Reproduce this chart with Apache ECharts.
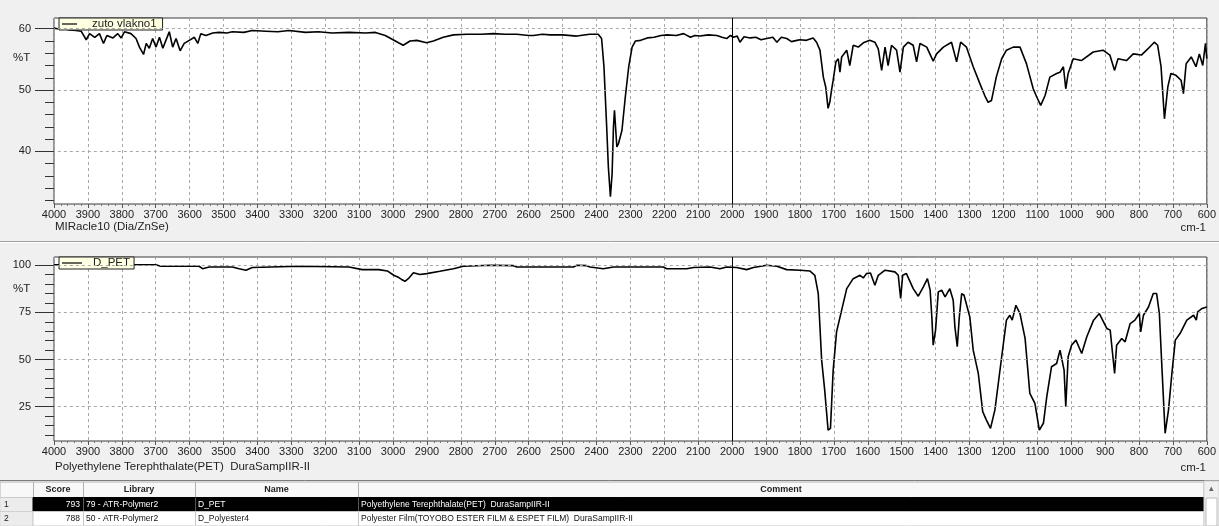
<!DOCTYPE html>
<html>
<head>
<meta charset="utf-8">
<script src="https://cdn.jsdelivr.net/npm/echarts@6/dist/echarts.min.js"></script>
<style>
html,body{margin:0;padding:0;background:#f0f0f0;}
#chart{width:1219px;height:526px;}
</style>
</head>
<body>
<div id="chart"></div>
<script>
// ---------- DATA ----------
const topName = 'zuto vlakno1';
const topSubtitle = 'MIRacle10 (Dia/ZnSe)';
const topWn = [4000,3990,3975,3955,3935,3920,3905,3895,3880,3866,3854,3844,3826,3812,3802,3792,3773,3758,3748,3736,3728,3719,3709,3699,3689,3679,3670,3660,3650,3640,3628,3616,3601,3586,3576,3567,3552,3532,3513,3490,3474,3440,3415,3375,3340,3307,3258,3220,3180,3130,3081,3052,3023,3000,2984,2970,2950,2930,2901,2881,2852,2822,2783,2740,2704,2670,2635,2600,2586,2560,2537,2500,2458,2420,2395,2385,2378,2370,2365,2359,2354,2350,2347,2344,2340,2335,2325,2315,2305,2295,2285,2270,2250,2230,2210,2191,2165,2143,2123,2110,2095,2070,2045,2030,2016,2005,1996,1985,1977,1965,1947,1930,1915,1898,1880,1868,1855,1839,1825,1809,1800,1781,1761,1751,1741,1731,1724,1717,1712,1707,1702,1694,1687,1682,1677,1662,1653,1643,1628,1613,1594,1579,1569,1559,1549,1540,1530,1515,1505,1495,1481,1466,1456,1446,1426,1407,1397,1377,1353,1338,1326,1309,1289,1269,1255,1245,1235,1221,1205,1191,1171,1151,1132,1112,1102,1090,1077,1063,1043,1033,1023,1016,1009,994,970,935,906,886,872,862,837,817,793,774,755,745,735,725,715,706,691,676,669,661,646,632,622,612,604,600];
const topT = [60.1,60.0,60.1,59.8,59.7,59.6,58.2,59.2,58.6,59.2,57.6,58.9,58.5,59.2,58.5,59.5,59.2,58.4,57.0,55.8,57.6,56.8,58.4,57.0,58.6,56.8,58.1,59.5,57.0,58.4,56.4,57.6,58.1,58.6,57.6,59.2,58.9,59.3,59.4,59.3,59.5,59.4,59.7,59.6,59.5,59.7,59.4,59.5,59.3,59.4,59.3,59.4,58.9,58.2,57.7,57.3,58.0,58.1,57.7,58.0,58.6,59.0,59.1,59.1,59.2,59.1,59.1,58.9,58.9,59.1,59.0,59.0,58.8,59.1,59.1,58.4,53.8,44.0,37.4,32.6,36.3,44.0,46.7,46.4,40.7,41.3,43.4,48.9,53.8,57.0,58.0,58.1,58.5,58.6,58.9,59.0,58.9,59.2,58.6,58.9,58.8,59.0,58.9,58.6,58.4,58.9,58.6,58.8,57.8,58.7,58.5,58.6,58.2,58.4,58.6,57.8,58.6,58.4,57.9,58.1,58.2,58.1,58.5,57.8,56.5,52.1,50.5,47.0,48.0,49.9,51.6,54.6,55.1,52.9,55.4,56.5,54.0,57.3,57.0,57.7,58.1,57.8,56.7,53.2,57.0,54.0,57.3,56.5,52.9,57.0,57.8,57.3,54.6,57.6,57.0,54.7,55.9,57.0,57.8,54.6,57.8,57.0,53.8,51.0,49.1,48.0,48.3,52.1,55.1,56.5,57.0,57.0,54.3,50.2,48.9,47.5,49.1,52.1,52.7,52.9,53.8,50.2,52.7,55.1,54.8,56.2,56.5,55.7,53.2,55.1,54.8,55.9,55.7,56.7,57.8,57.3,53.8,45.3,50.5,52.7,52.4,51.6,49.4,54.3,55.4,53.8,55.9,54.0,57.6,55.1];

const botName = 'D_PET';
const botSubtitle = 'Polyethylene Terephthalate(PET)  DuraSampIIR-II';
const botWn = [4000,3900,3800,3700,3685,3572,3562,3542,3474,3454,3434,3415,3277,3130,3091,3042,3017,2998,2983,2975,2965,2955,2940,2921,2901,2862,2822,2793,2714,2645,2635,2468,2458,2429,2419,2380,2350,2203,2193,2134,2114,2065,2036,2016,1987,1957,1937,1898,1868,1839,1799,1771,1756,1746,1736,1727,1717,1710,1702,1692,1677,1662,1643,1623,1613,1604,1592,1579,1569,1549,1520,1510,1503,1497,1486,1466,1451,1436,1424,1416,1411,1407,1400,1392,1382,1372,1358,1348,1343,1336,1330,1323,1316,1299,1289,1274,1261,1250,1238,1225,1205,1191,1181,1174,1163,1151,1136,1122,1107,1094,1082,1072,1058,1043,1033,1028,1021,1016,1009,999,986,969,954,934,917,895,885,877,872,866,851,841,826,812,799,795,787,772,758,748,740,733,723,713,703,693,679,659,639,631,627,614,600];
const botT = [100.3,100.3,100.3,100.3,99.5,99.5,98.2,99.1,99.1,98.2,97.4,98.8,99.5,99.1,97.7,97.7,97.0,94.7,93.5,92.5,91.5,92.9,96.1,95.1,95.6,96.8,98.2,99.5,100.0,99.8,99.1,99.1,100.0,99.8,99.1,98.2,99.1,99.1,98.2,98.2,98.8,99.1,98.2,99.1,98.8,97.7,98.8,100.0,99.5,97.7,97.4,97.0,94.7,85.0,49.7,33.8,12.6,13.5,44.4,64.7,76.2,87.6,92.9,94.7,93.3,95.6,95.9,89.4,94.7,97.4,96.5,94.7,82.4,94.7,95.6,87.6,83.6,88.5,92.9,86.8,72.6,57.6,65.6,85.9,86.8,83.2,87.6,81.5,67.3,56.8,72.6,85.0,84.1,72.6,55.0,42.7,22.4,17.9,13.5,23.3,51.5,70.9,73.5,70.9,78.8,74.4,61.2,32.1,26.8,12.6,16.2,30.3,46.2,47.9,55.0,55.9,44.4,25.0,51.5,57.6,60.3,53.2,62.1,70.9,74.4,66.5,65.6,51.5,42.7,57.6,61.2,59.4,69.1,70.9,74.4,64.7,73.5,77.9,85.0,85.0,74.4,47.9,10.9,23.3,42.7,60.3,63.8,70.9,73.5,70.9,75.3,77.1,77.9];

const topMajorTicks = [40, 50, 60];
const topMinorTicks = [32, 34, 36, 38, 42, 44, 46, 48, 52, 54, 56, 58];
const botMajorTicks = [25, 50, 75, 100];
const botMinorTicks = [10, 15, 20, 30, 35, 40, 45, 55, 60, 65, 70, 80, 85, 90, 95];
const cursorWn = 2000;
const yLabel = '%T';
const xUnit = 'cm-1';

const tableHeaders = ['', 'Score', 'Library', 'Name', 'Comment'];
const tableRows = [
  ['1', '793', '79 - ATR-Polymer2', 'D_PET', 'Polyethylene Terephthalate(PET)  DuraSampIIR-II'],
  ['2', '788', '50 - ATR-Polymer2', 'D_Polyester4', 'Polyester Film(TOYOBO ESTER FILM & ESPET FILM)  DuraSampIIR-II']
];

// ---------- CHART ----------
const FONT = 'Liberation Sans, Arial, sans-serif';
const zip = (a, b) => a.map((v, i) => [v, b[i]]);

function xAxisCfg(gi) {
  return {
    type: 'value', gridIndex: gi, min: 600, max: 4000, interval: 100, inverse: true,
    axisLine: { show: false },
    axisTick: { show: true, length: 4, lineStyle: { color: '#555' } },
    minorTick: { show: true, splitNumber: 5, length: 2, lineStyle: { color: '#777' } },
    axisLabel: { interval: 0, showMinLabel: true, showMaxLabel: true, fontSize: 11, color: '#222', margin: 5, fontFamily: FONT,
      formatter: v => String(v) },
    splitLine: { show: true, lineStyle: { type: [3, 3], color: '#a8a8a8', width: 1 } }
  };
}
function yAxisCfg(gi, min, max, ticks, len, labels) {
  return {
    type: 'value', gridIndex: gi, min: min, max: max, position: 'left',
    axisLine: { show: false },
    axisTick: { show: true, length: len, customValues: ticks, lineStyle: { color: '#333' } },
    axisLabel: labels ? { show: true, customValues: ticks, margin: 23, fontSize: 11, color: '#222', fontFamily: FONT, formatter: v => String(v) } : { show: false },
    splitLine: { show: false }
  };
}
function gridLines(majors) {
  return majors.map(v => ({ yAxis: v, lineStyle: { type: [3, 3], color: '#a8a8a8', width: 1 } }))
    .concat([{ xAxis: cursorWn, lineStyle: { type: 'solid', color: '#000', width: 1 } }]);
}

const chart = echarts.init(document.getElementById('chart'), null, { renderer: 'canvas' });

const graphics = [];
graphics.push({ type: 'line', shape: { x1: 0, y1: 241.5, x2: 1219, y2: 241.5 }, style: { stroke: '#a0a0a0', lineWidth: 1 } });
graphics.push({ type: 'line', shape: { x1: 0, y1: 242.5, x2: 1219, y2: 242.5 }, style: { stroke: '#ffffff', lineWidth: 1 } });
function txt(x, y, text, size, align, color, weight) {
  return { type: 'text', x: x, y: y, silent: true,
    style: { text: text, font: (weight || 'normal') + ' ' + size + 'px ' + FONT, fill: color || '#222',
      align: align || 'left', textAlign: align || 'left', verticalAlign: 'middle', textVerticalAlign: 'middle' } };
}
graphics.push(txt(13, 58, yLabel, 11.5));
graphics.push(txt(13, 289, yLabel, 11.5));
graphics.push(txt(55, 227, topSubtitle, 11.5));
graphics.push(txt(1206, 228, xUnit, 11.5, 'right'));
graphics.push(txt(55, 467, botSubtitle, 11.5));
graphics.push(txt(1206, 468, xUnit, 11.5, 'right'));

// table
const colX = [0, 33, 83, 195, 358, 1204];
const rowY = [482, 497.5, 511.5, 526];
graphics.push({ type: 'rect', shape: { x: 0, y: 480, width: 1219, height: 46 }, style: { fill: '#ffffff' } });
graphics.push({ type: 'line', shape: { x1: 0, y1: 480.5, x2: 1219, y2: 480.5 }, style: { stroke: '#7a7a7a', lineWidth: 1 } });
graphics.push({ type: 'rect', shape: { x: 0, y: rowY[0], width: 1204, height: rowY[1] - rowY[0] }, style: { fill: '#f8f8f8', stroke: '#b0b0b0', lineWidth: 1 } });
for (let c = 1; c < colX.length - 1; c++) {
  graphics.push({ type: 'line', shape: { x1: colX[c] + 0.5, y1: rowY[0], x2: colX[c] + 0.5, y2: rowY[1] }, style: { stroke: '#b0b0b0', lineWidth: 1 } });
}
for (let c = 1; c < tableHeaders.length; c++) {
  graphics.push(txt((colX[c] + colX[c + 1]) / 2, (rowY[0] + rowY[1]) / 2, tableHeaders[c], 9, 'center', '#222', 'bold'));
}
tableRows.forEach((row, r) => {
  const y0 = rowY[r + 1], y1 = rowY[r + 2];
  const sel = r === 0;
  graphics.push({ type: 'rect', shape: { x: 0, y: y0, width: colX[1], height: y1 - y0 }, style: { fill: '#ececec', stroke: '#c8c8c8', lineWidth: 1, lineDash: [1, 1] } });
  graphics.push({ type: 'rect', shape: { x: colX[1], y: y0, width: colX[5] - colX[1], height: y1 - y0 }, style: { fill: sel ? '#000' : '#fff', stroke: sel ? '#000' : '#c8c8c8', lineWidth: 1 } });
  for (let c = 2; c < colX.length - 1; c++) {
    graphics.push({ type: 'line', shape: { x1: colX[c] + 0.5, y1: y0, x2: colX[c] + 0.5, y2: y1 }, style: { stroke: sel ? '#555' : '#c8c8c8', lineWidth: 1 } });
  }
  const ym = (y0 + y1) / 2;
  const col = sel ? '#fff' : '#111';
  graphics.push(txt(4, ym, row[0], 8.5, 'left', '#222'));
  graphics.push(txt(colX[2] - 3, ym, row[1], 8.5, 'right', col));
  graphics.push(txt(colX[2] + 3, ym, row[2], 8.5, 'left', col));
  graphics.push(txt(colX[3] + 3, ym, row[3], 8.5, 'left', col));
  graphics.push(txt(colX[4] + 3, ym, row[4], 8.5, 'left', col));
});
graphics.push({ type: 'rect', shape: { x: 1204, y: 481, width: 15, height: 45 }, style: { fill: '#f0f0f0', stroke: '#d0d0d0', lineWidth: 1 } });
graphics.push({ type: 'rect', shape: { x: 1206, y: 498, width: 11, height: 28 }, style: { fill: '#ffffff', stroke: '#bcbcbc', lineWidth: 1 } });
graphics.push(txt(1211.5, 489, '\u25B4', 9, 'center', '#666'));

function legendCfg(name, top, iconW, gap, padR) {
  return { data: [name], left: 59, top: top, backgroundColor: '#ffffe1', borderColor: '#222', borderWidth: 1, borderRadius: 0,
    padding: [0, padR, 0, 3], icon: 'rect', itemWidth: iconW, itemHeight: 1.2, selectedMode: false,
    itemStyle: { color: '#000', borderWidth: 0 },
    textStyle: { fontSize: 11.5, lineHeight: 11, color: '#222', fontFamily: FONT, padding: [0, 0, 0, gap] } };
}

const option = {
  backgroundColor: '#f0f0f0',
  animation: false,
  textStyle: { fontFamily: FONT },
  grid: [
    { left: 54, top: 18, width: 1153, height: 186, show: true, backgroundColor: '#ffffff', borderColor: '#3a3a3a', borderWidth: 1, containLabel: false },
    { left: 54, top: 257, width: 1153, height: 184, show: true, backgroundColor: '#ffffff', borderColor: '#3a3a3a', borderWidth: 1, containLabel: false }
  ],
  legend: [legendCfg(topName, 18, 15, 10, 6), legendCfg(botName, 257, 20, 6, 4)],
  xAxis: [xAxisCfg(0), xAxisCfg(1)],
  yAxis: [
    yAxisCfg(0, 31.4, 61.75, topMajorTicks, 19, true),
    yAxisCfg(0, 31.4, 61.75, topMinorTicks, 9, false),
    yAxisCfg(1, 6.8, 104.4, botMajorTicks, 19, true),
    yAxisCfg(1, 6.8, 104.4, botMinorTicks, 9, false)
  ],
  series: [
    { name: topName, type: 'line', xAxisIndex: 0, yAxisIndex: 0, data: zip(topWn, topT), symbol: 'none', showSymbol: false,
      lineStyle: { color: '#000', width: 1.6 }, itemStyle: { color: '#000' }, silent: true, z: 3,
      markLine: { silent: true, symbol: 'none', label: { show: false }, animation: false, data: gridLines(topMajorTicks) } },
    { name: botName, type: 'line', xAxisIndex: 1, yAxisIndex: 2, data: zip(botWn, botT), symbol: 'none', showSymbol: false,
      lineStyle: { color: '#000', width: 1.6 }, itemStyle: { color: '#000' }, silent: true, z: 3,
      markLine: { silent: true, symbol: 'none', label: { show: false }, animation: false, data: gridLines(botMajorTicks) } }
  ],
  graphic: graphics
};
chart.setOption(option);
</script>
</body>
</html>
